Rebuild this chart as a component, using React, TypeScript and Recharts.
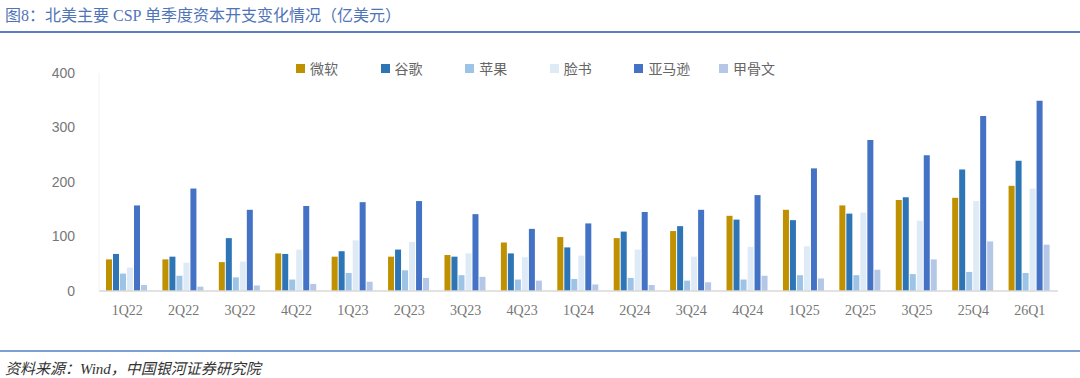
import { BarChart, Bar, XAxis, YAxis } from "recharts";

const categories = ["1Q22", "2Q22", "3Q22", "4Q22", "1Q23", "2Q23", "3Q23", "4Q23", "1Q24", "2Q24", "3Q24", "4Q24", "1Q25", "2Q25", "3Q25", "25Q4", "26Q1"];

const microsoft = [58, 58, 53, 69, 63, 63, 66, 89, 99, 97, 110, 138, 149, 157, 167, 171, 193];
const google = [68, 63, 97, 68, 73, 76, 63, 69, 80, 109, 119, 131, 130, 142, 172, 223, 239];
const apple = [32, 28, 25, 21, 33, 38, 29, 21, 22, 24, 19, 21, 29, 29, 31, 35, 33];
const meta = [43, 52, 54, 76, 93, 90, 69, 62, 65, 76, 63, 81, 82, 144, 129, 165, 188];
const amazon = [157, 188, 149, 156, 163, 165, 141, 114, 124, 145, 149, 176, 225, 277, 249, 321, 349];
const oracle = [11, 8, 10, 13, 17, 24, 26, 19, 12, 11, 16, 28, 23, 39, 58, 91, 85];

const yTicks = [0, 100, 200, 300, 400];

const series = [
  { key: "微软", values: microsoft, color: "#BF9000" },
  { key: "谷歌", values: google, color: "#2E75B6" },
  { key: "苹果", values: apple, color: "#9DC3E6" },
  { key: "脸书", values: meta, color: "#DEEBF7" },
  { key: "亚马逊", values: amazon, color: "#4472C4" },
  { key: "甲骨文", values: oracle, color: "#B4C7E7" },
];

const data = categories.map((c, i) => {
  const row: Record<string, string | number> = { name: c };
  series.forEach((s) => {
    row[s.key] = s.values[i];
  });
  return row;
});

const SERIF = '"Liberation Serif", "Noto Sans CJK SC", serif';
const SANS = '"Liberation Sans", "Noto Sans CJK SC", sans-serif';

export default function App() {
  return (
    <div style={{ position: "relative", width: 1080, height: 378, background: "#fff", overflow: "hidden" }}>
      <style>{`body{margin:0}`}</style>
      <div style={{ position: "absolute", left: 5, top: 2, fontSize: 16, color: "#4F74B8", fontFamily: SERIF }}>
        图8：北美主要 CSP 单季度资本开支变化情况（亿美元）
      </div>
      <div style={{ position: "absolute", left: 0, top: 31, width: 1080, height: 2, background: "#5B7FC0" }} />

      {/* legend */}
      <div style={{ position: "absolute", top: 58, left: 296, display: "flex" }}>
        {series.map((s) => (
          <div key={s.key} style={{ width: 84.6, display: "flex", alignItems: "center", fontSize: 14, color: "#666", fontFamily: SANS }}>
            <span style={{ width: 9, height: 9, background: s.color, display: "inline-block", marginRight: 5 }} />
            {s.key}
          </div>
        ))}
      </div>

      <div style={{ position: "absolute", left: 0, top: 0 }}>
        <BarChart
          width={1080}
          height={378}
          data={data}
          margin={{ top: 73, right: 22, bottom: 57, left: 59 }}
          barCategoryGap={7}
          barGap={1}
        >
          <XAxis
            dataKey="name"
            axisLine={{ stroke: "#D9D9D9", strokeWidth: 1.5 }}
            tickLine={false}
            tickMargin={8}
            height={30}
            interval={0}
            tick={{ fontSize: 14, fill: "#777", fontFamily: SERIF }}
          />
          <YAxis
            domain={[0, 400]}
            ticks={yTicks}
            width={40}
            axisLine={{ stroke: "#F2F2F2" }}
            tickLine={false}
            tickMargin={18}
            tick={{ fontSize: 14, fill: "#777", fontFamily: SANS }}
          />
          {series.map((s) => (
            <Bar key={s.key} dataKey={s.key} fill={s.color} isAnimationActive={false} />
          ))}
        </BarChart>
      </div>
      <div style={{ position: "absolute", left: 0, top: 350, width: 1080, height: 1.5, background: "#7F9ED2" }} />
      <div style={{ position: "absolute", left: 5, top: 357, fontSize: 15, color: "#333", fontStyle: "italic", fontFamily: SERIF }}>
        资料来源：Wind，中国银河证券研究院
      </div>
    </div>
  );
}
